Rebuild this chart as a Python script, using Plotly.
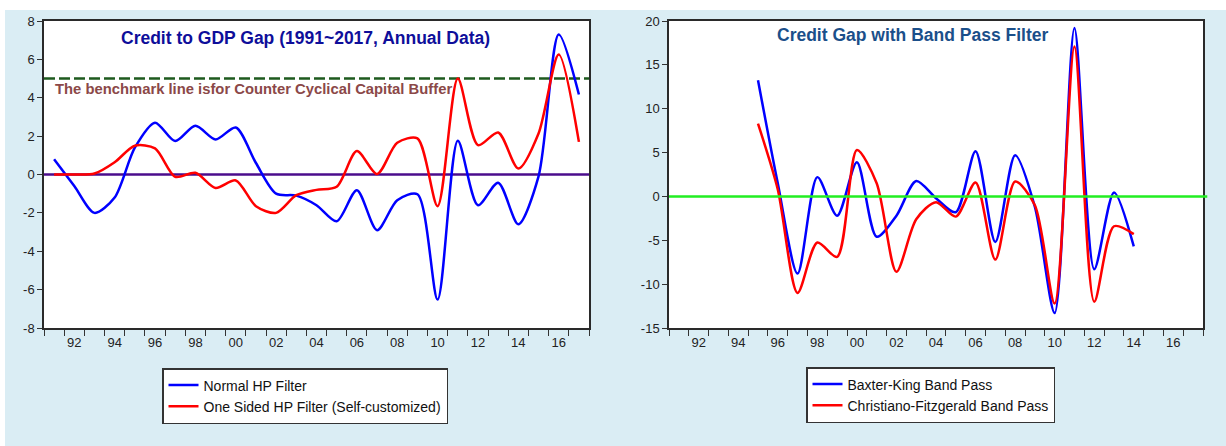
import plotly.graph_objects as go

W, H = 1226, 446

# ---------------- data ----------------
years_hp = list(range(1991, 2018))
normal_hp = [0.8, -0.6, -2.0, -1.2, 1.4, 2.7, 1.74, 2.54, 1.83, 2.45, 0.6, -1.0, -1.1,
             -1.6, -2.44, -0.82, -2.9, -1.34, -1.03, -6.52, 1.76, -1.6, -0.43, -2.59,
             -0.1, 7.3, 4.17]
one_sided_hp = [0.0, 0.0, 0.05, 0.64, 1.5, 1.36, -0.12, 0.09, -0.7, -0.31, -1.65, -2.0,
                -1.08, -0.8, -0.64, 1.22, 0.02, 1.65, 1.88, -1.65, 5.0, 1.53, 2.19, 0.31,
                2.14, 6.26, 1.7]

years_bp = list(range(1995, 2015))
baxter_king = [13.25, 1.5, -8.8, 2.2, -2.2, 3.9, -4.6, -2.2, 1.75, -0.2, -1.8, 5.16,
               -5.2, 4.7, -1.2, -13.3, 19.2, -8.3, 0.46, -5.7]
christiano_fitzgerald = [8.3, 0.8, -11.0, -5.25, -6.9, 5.3, 1.5, -8.6, -2.6, -0.65, -2.3,
                         1.6, -7.2, 1.7, -1.0, -12.2, 17.1, -12.0, -3.4, -4.3]

benchmark = 5
x_label_years = list(range(1992, 2017, 2))
x_tick_text = [f"{y % 100:02d}" for y in x_label_years]
y1_ticks = list(range(-8, 9, 2))
y2_ticks = list(range(-15, 21, 5))

# ---------------- style ----------------
BG = "#DAEDF4"
BLUE = "#0000FF"
RED = "#FF0000"
FONT = "Liberation Sans, Arial, sans-serif"

def px_x(p):
    return p / W

def px_y(p):
    return 1 - p / H

fig = go.Figure()

fig.add_trace(go.Scatter(x=years_hp, y=normal_hp, name="Normal HP Filter",
                         mode="lines", line=dict(color=BLUE, width=2.5, shape="spline", smoothing=0.8),
                         xaxis="x", yaxis="y", legend="legend"))
fig.add_trace(go.Scatter(x=years_hp, y=one_sided_hp, name="One Sided HP Filter (Self-customized)",
                         mode="lines", line=dict(color=RED, width=2.5, shape="spline", smoothing=0.8),
                         xaxis="x", yaxis="y", legend="legend"))
fig.add_trace(go.Scatter(x=years_bp, y=baxter_king, name="Baxter-King Band Pass",
                         mode="lines", line=dict(color=BLUE, width=2.5, shape="spline", smoothing=0.8),
                         xaxis="x2", yaxis="y2", legend="legend2"))
fig.add_trace(go.Scatter(x=years_bp, y=christiano_fitzgerald, name="Christiano-Fitzgerald Band Pass",
                         mode="lines", line=dict(color=RED, width=2.5, shape="spline", smoothing=0.8),
                         xaxis="x2", yaxis="y2", legend="legend2"))

xaxis_common = dict(
    range=[1990.5, 2017.5],
    tickmode="array", tickvals=x_label_years, ticktext=x_tick_text,
    ticks="", showgrid=False, zeroline=False, automargin=False,
    showline=True, linecolor="#2a2a2a", linewidth=1.5, mirror=True,
    tickfont=dict(family=FONT, size=13, color="#222"),
    minor=dict(tickmode="array", tickvals=[1990.5 + k for k in range(28)],
               ticks="outside", ticklen=6, tickwidth=1, tickcolor="#333", showgrid=False),
    ticklabelstandoff=2,
    fixedrange=True,
)
yaxis_common = dict(
    showgrid=False, zeroline=False, automargin=False,
    showline=True, linecolor="#2a2a2a", linewidth=1.5, mirror=True,
    ticks="outside", ticklen=5, tickcolor="#333",
    tickfont=dict(family=FONT, size=13, color="#222"),
    fixedrange=True, tickmode="array",
)

ybot, ytop = px_y(328), px_y(21)
legend_font = dict(family=FONT, size=14, color="#111")

fig.update_layout(
    template="none",
    width=W, height=H, autosize=False,
    margin=dict(l=0, r=0, t=0, b=0, pad=0),
    paper_bgcolor=BG, plot_bgcolor="white",
    font=dict(family=FONT, size=13, color="#222"),
    xaxis=dict(domain=[px_x(44), px_x(589)], anchor="y", **xaxis_common),
    yaxis=dict(domain=[ybot, ytop], anchor="x", range=[-8, 8],
               tickvals=y1_ticks, ticktext=[str(v) for v in y1_ticks], **yaxis_common),
    xaxis2=dict(domain=[px_x(669), px_x(1203)], anchor="y2", **xaxis_common),
    yaxis2=dict(domain=[ybot, ytop], anchor="x2", range=[-15, 20],
                tickvals=y2_ticks, ticktext=[str(v) for v in y2_ticks], **yaxis_common),
    showlegend=True,
    legend=dict(x=px_x(162), y=px_y(368), xanchor="left", yanchor="top",
                bgcolor="white", bordercolor="#333", borderwidth=1.5,
                font=legend_font, tracegroupgap=0, itemwidth=30),
    legend2=dict(x=px_x(806), y=px_y(367), xanchor="left", yanchor="top",
                 bgcolor="white", bordercolor="#333", borderwidth=1.5,
                 font=legend_font, tracegroupgap=0, itemwidth=30),
)

shapes = [
    # white strips at the top and left of the picture
    dict(type="rect", xref="paper", yref="paper", x0=0, x1=1, y0=px_y(10), y1=1,
         fillcolor="white", line=dict(width=0), layer="below"),
    dict(type="rect", xref="paper", yref="paper", x0=0, x1=px_x(5), y0=0, y1=1,
         fillcolor="white", line=dict(width=0), layer="below"),
    # zero line (left)
    dict(type="line", xref="x domain", yref="y", x0=0, x1=1, y0=0, y1=0,
         line=dict(color="#4B0C8C", width=2.5), layer="below"),
    # benchmark line
    dict(type="line", xref="x domain", yref="y", x0=0, x1=1, y0=benchmark, y1=benchmark,
         line=dict(color="#1E5A1E", width=2.5, dash="11px,4px"), layer="below"),
    # zero line (right)
    dict(type="line", xref="x2 domain", yref="y2", x0=0, x1=1.008, y0=0, y1=0,
         line=dict(color="#22EE22", width=2.5), layer="above"),
]
fig.update_layout(shapes=shapes)

fig.add_annotation(xref="x domain", yref="paper", x=(305 - 44) / 545, y=px_y(38),
                   text="<b>Credit to GDP Gap (1991~2017, Annual Data)</b>", showarrow=False,
                   font=dict(family=FONT, size=17.5, color="#0E0E9A"), xanchor="center", yanchor="middle")
fig.add_annotation(xref="x domain", yref="paper", x=(53 - 44) / 545, y=px_y(89),
                   text="<b>The benchmark line isfor Counter Cyclical Capital Buffer</b>", showarrow=False,
                   font=dict(family=FONT, size=14.8, color="#8B4848"), xanchor="left", yanchor="middle")
fig.add_annotation(xref="x2 domain", yref="paper", x=(912 - 669) / 534, y=px_y(35),
                   text="<b>Credit Gap with Band Pass Filter</b>", showarrow=False,
                   font=dict(family=FONT, size=17.5, color="#1B4F8A"), xanchor="center", yanchor="middle")

fig.write_html("out.html", config={"displayModeBar": False},
               post_script="document.body.style.margin='0px';document.body.style.overflow='hidden';")
